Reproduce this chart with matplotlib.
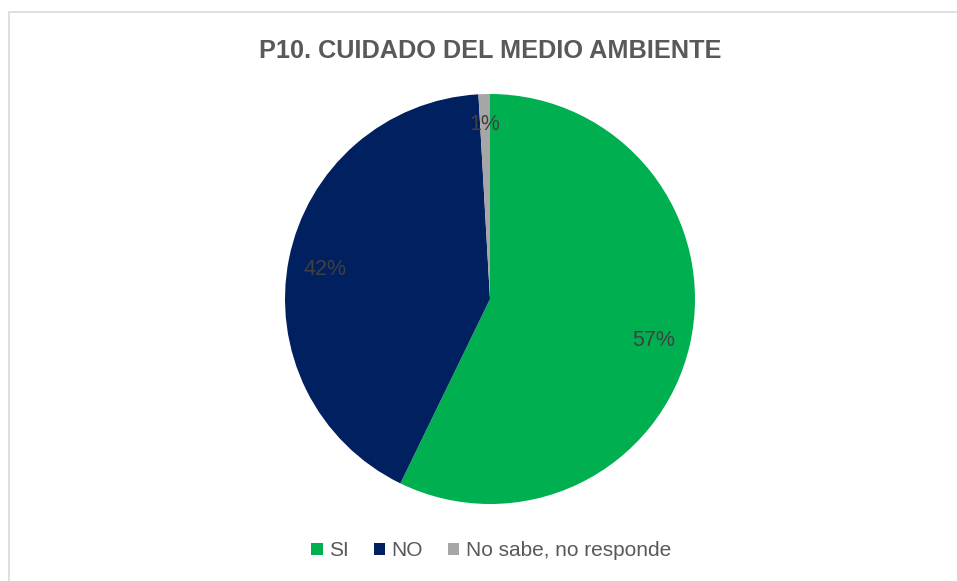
import matplotlib.pyplot as plt
from matplotlib.patches import Patch, Rectangle

plt.rcParams['font.family'] = ['Liberation Sans', 'DejaVu Sans']

# datos
categorias = ['SI', 'NO', 'No sabe, no responde']
porcentajes = [57.2, 41.9, 0.9]
colores = ['#00B050', '#002060', '#A6A6A6']

W, H = 957, 581
fig = plt.figure(figsize=(W / 100, H / 100), dpi=100)

# marco del area del grafico
fig.patches.append(Rectangle((9 / W, -0.01), 1.0, 1 - 12 / H + 0.01,
                             transform=fig.transFigure, fill=False,
                             edgecolor='#D9D9D9', lw=1.2))

cx, cy, r = 490, 299, 205
ax = fig.add_axes([(cx - r) / W, (H - cy - r) / H, 2 * r / W, 2 * r / H])
wedges, texts, autotexts = ax.pie(porcentajes, colors=colores, startangle=90,
                                  counterclock=False, autopct='%1.0f%%',
                                  pctdistance=0.82,
                                  textprops={'fontsize': 15.5, 'color': '#404040'})
# la etiqueta pequena queda un poco mas afuera
x, y = autotexts[2].get_position()
autotexts[2].set_position((x * 0.87 / 0.82, y * 0.87 / 0.82))
for t in autotexts:
    x, y = t.get_position()
    t.set_position((x, y - 0.018))
ax.set_xlim(-1, 1)
ax.set_ylim(-1, 1)
ax.set_aspect('equal')
ax.axis('off')

fig.text(490 / W, 1 - 51 / H, 'P10. CUIDADO DEL MEDIO AMBIENTE', ha='center', va='center',
         fontsize=18.2, fontweight='bold', color='#595959')

handles = [Patch(facecolor=c, edgecolor='none') for c in colores]
leg = fig.legend(handles, categorias, loc='center', bbox_to_anchor=(491 / W, 1 - 551 / H),
                 ncol=3, frameon=False, fontsize=15, handlelength=0.55, handleheight=0.55,
                 handletextpad=0.3, columnspacing=1.2)
for t in leg.get_texts():
    t.set_color('#595959')

plt.savefig('out.png', dpi=100)
